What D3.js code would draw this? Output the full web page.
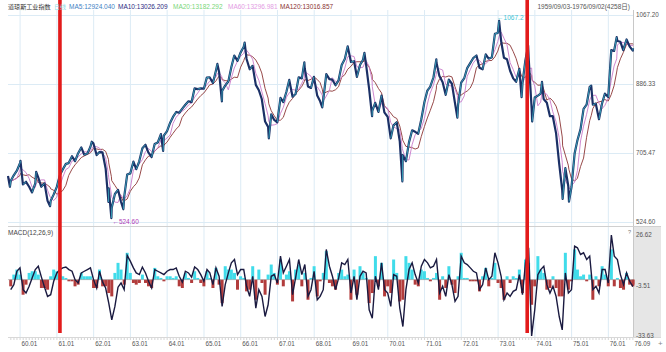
<!DOCTYPE html>
<meta charset="utf-8">
<script src="https://d3js.org/d3.v7.min.js"></script>
<style>
body { margin: 0; background: #fff; }
text { font-family: "Liberation Sans", "Noto Sans CJK SC", sans-serif; }
</style>
<body>
<script>

// ---- data (Dow Jones Industrial, 1959/09 - 1976/09) ----
var priceDates = [
 "1959-09-03","1959-09-22","1959-09-30","1959-10-30","1959-11-30","1959-12-31",
 "1960-01-05","1960-01-29","1960-02-29","1960-03-31","1960-04-29","1960-05-31","1960-06-09","1960-06-30","1960-07-29","1960-08-31","1960-09-30","1960-10-25","1960-10-31","1960-11-30","1960-12-30",
 "1961-01-31","1961-02-28","1961-03-31","1961-04-28","1961-05-31","1961-06-30","1961-07-31","1961-08-31","1961-09-29","1961-10-31","1961-11-30","1961-12-13","1961-12-29",
 "1962-01-31","1962-02-28","1962-03-30","1962-04-30","1962-05-28","1962-05-31","1962-06-26","1962-06-29","1962-07-31","1962-08-31","1962-09-28","1962-10-23","1962-10-31","1962-11-30","1962-12-31",
 "1963-01-31","1963-02-28","1963-03-29","1963-04-30","1963-05-31","1963-06-28","1963-07-31","1963-08-30","1963-09-30","1963-10-31","1963-11-22","1963-11-29","1963-12-31",
 "1964-01-31","1964-02-28","1964-03-31","1964-04-30","1964-05-29","1964-06-30","1964-07-31","1964-08-31","1964-09-30","1964-10-30","1964-11-30","1964-12-31",
 "1965-01-29","1965-02-26","1965-03-31","1965-04-30","1965-05-14","1965-05-31","1965-06-28","1965-06-30","1965-07-30","1965-08-31","1965-09-30","1965-10-29","1965-11-30","1965-12-31",
 "1966-01-31","1966-02-09","1966-02-28","1966-03-31","1966-04-29","1966-05-31","1966-06-30","1966-07-29","1966-08-31","1966-09-30","1966-10-07","1966-10-31","1966-11-30","1966-12-30",
 "1967-01-31","1967-02-28","1967-03-31","1967-04-28","1967-05-31","1967-06-30","1967-07-31","1967-08-31","1967-09-25","1967-09-29","1967-10-31","1967-11-30","1967-12-29",
 "1968-01-31","1968-02-29","1968-03-21","1968-03-29","1968-04-30","1968-05-31","1968-06-28","1968-07-31","1968-08-30","1968-09-30","1968-10-31","1968-11-29","1968-12-31",
 "1969-01-31","1969-02-28","1969-03-31","1969-04-30","1969-05-14","1969-05-30","1969-06-30","1969-07-29","1969-07-31","1969-08-29","1969-09-30","1969-10-31","1969-11-28","1969-12-31",
 "1970-01-30","1970-02-27","1970-03-31","1970-04-30","1970-05-26","1970-05-29","1970-06-30","1970-07-31","1970-08-31","1970-09-30","1970-10-30","1970-11-30","1970-12-31",
 "1971-01-29","1971-02-26","1971-03-31","1971-04-28","1971-04-30","1971-05-28","1971-06-30","1971-07-30","1971-08-31","1971-09-30","1971-10-29","1971-11-23","1971-11-30","1971-12-31",
 "1972-01-31","1972-02-29","1972-03-30","1972-04-28","1972-05-31","1972-06-30","1972-07-31","1972-08-31","1972-09-29","1972-10-31","1972-11-30","1972-12-29",
 "1973-01-11","1973-01-31","1973-02-28","1973-03-30","1973-04-30","1973-05-31","1973-06-29","1973-07-31","1973-08-22","1973-08-31","1973-09-28","1973-10-26","1973-10-31","1973-11-30","1973-12-05","1973-12-31",
 "1974-01-31","1974-02-28","1974-03-13","1974-03-29","1974-04-30","1974-05-31","1974-06-28","1974-07-31","1974-08-30","1974-09-30","1974-10-04","1974-10-31","1974-11-29","1974-12-06","1974-12-31",
 "1975-01-31","1975-02-28","1975-03-31","1975-04-30","1975-05-30","1975-06-30","1975-07-15","1975-07-31","1975-08-29","1975-09-30","1975-10-31","1975-11-28","1975-12-31",
 "1976-01-30","1976-02-27","1976-03-24","1976-03-31","1976-04-30","1976-05-28","1976-06-30","1976-07-30","1976-08-31","1976-09-02"
];
var priceClose = [
 645,617,632,647,659,679,
 685,623,630,617,602,626,656,641,617,626,580,566,580,597,616,
 648,662,677,679,697,684,705,720,701,704,722,735,731,
 700,708,707,665,577,613,535,561,598,609,579,558,590,649,652,
 683,663,683,718,727,707,695,729,733,755,711,751,763,
 785,800,813,811,821,832,841,839,875,873,875,874,
 903,904,889,922,939,918,841,868,882,893,931,961,947,969,
 984,995,952,925,934,884,870,847,788,774,744,807,792,786,
 850,839,866,897,853,860,904,901,943,927,880,876,905,
 856,841,825,841,912,899,898,883,896,936,952,985,944,
 946,905,936,950,968,938,873,802,816,837,813,856,812,800,
 744,778,786,736,631,700,684,734,765,761,756,794,839,
 869,879,904,951,942,908,891,858,898,887,839,798,831,890,
 902,928,941,954,961,929,925,964,953,956,1018,1020,
 1052,999,955,951,921,901,892,926,852,888,947,987,957,822,788,851,
 856,861,892,847,837,802,802,757,679,608,585,666,619,578,616,
 704,739,768,821,832,879,882,832,835,794,836,861,852,
 975,973,1009,999,997,975,1003,985,974,980
];

// MACD(12,26,9): one value per month from 1959/09 to 1976/09
var macdStart = "1959-09-01";
var difValues = [
 -6,-3,5,7,
 -6,-8,-4,1,6,8,1.5,-4.5,-10,-9,-1,4,
 6,7,7.5,6,5,0,-2,4,5,6,7,0,
 -5,5,-1.5,-5,-14,-24,-16,-4.5,-2,-6,14.5,11,
 7,4,3,7.5,4,-1,-5,6,5,4,3,5,
 6,6,7,2,-1.5,5,4,1.5,7.5,6,3,-1,
 6,4,-3,7,2,-16,-3,4,10,12,3,6,
 6,-4,-10,2,-17,-6,-10,-22,-15,2,3,-2,
 14,4,8,12,-9,1,12,3,9,-10,-6,5,
 -12,-10,-6,18,8,2,-6,1,10,9,12,-8,
 2,-12,2,5,4,-18,-23,2,-6,10,-6,-8,
 -16,3,2,-17,-28,-6,6,10,3,-2,8,12,
 10,7,8,12,-8,-4,-10,3,-3,-13,-10,14,
 10,9,7,5,4,-6,-3,7,0,2,16,10,
 2,-12,-8,-10,-7,-6,3,-9,10,19,-33.6,-18,
 3,6,8,-3,-8,-4,-10,-22,-30,4,-8,-6,
 20,19,15,16,12,14,-6,-4,-8,6,6,-2,
 26.6,14,12,3,-3,4,-1,-4,-4
];
var histValues = [
 -4,3,6,3,
 -9,-3,4,5,5,3,-5,-5,-6,2,6,5,
 3,2,1,-1,-1,-4,-3,4,2,2,2,-5,
 -5,6,-4,-4,-8,-10,4,10,6,-3,16,4,
 -2,-3,-2,3,-2,-4,-5,7,2,1,-1,2,
 2,1,2,-4,-5,4,1,-2,5,1,-2,-4,
 5,1,-5,7,-3,-14,8,6,6,4,-6,2,
 1,-7,-6,8,-12,6,-2,-9,3,9,4,-3,
 12,-4,3,5,-13,6,9,-4,4,-12,1,8,
 -10,-1,4,17,-2,-4,-6,4,6,2,3,-12,
 6,-9,8,4,1,-14,-8,14,-4,10,-10,-4,
 -8,12,4,-13,-12,14,10,6,-3,-4,6,5,
 1,-1,1,4,-12,2,-5,8,-3,-8,2,16,
 1,1,-1,-1,-1,-7,2,7,-4,1,10,-2,
 -5,-12,2,-2,2,1,6,-8,12,10,-15,-4,
 14,6,4,-6,-5,2,-5,-10,-10,16,-6,-1,
 18,6,2,3,-1,3,-12,2,-4,8,3,-4,
 18,-4,1,-5,-6,4,-3,-4,-3
];

var priceTicks = [524.60, 705.47, 886.33, 1067.20];
var macdTicks = [26.62, -3.51, -33.63];
var yearLabels = ["60.01","61.01","62.01","63.01","64.01","65.01","66.01","67.01","68.01","69.01","70.01","71.01","72.01","73.01","74.01","75.01","76.01"];
var lastLabel = "76.09";
var markerDates = ["1961-01-31", "1973-10-17"];
var legendLabels = ["道琼斯工业指数", "日线", "MA5:12924.040", "MA10:13026.209", "MA20:13182.292", "MA60:13296.981", "MA120:13016.857"];
var legendColors = ["#333333", "#8fdbe6", "#3f7fc4", "#2c2c82", "#7ad67a", "#e39be3", "#8b3434"];
var legendX = [8, 54, 69, 118, 173, 228, 280];

// ---- layout ----
var width = 666, height = 352;
var left = 8, right = 633;
var parse = d3.timeParse("%Y-%m-%d");

var svg = d3.select("body").append("svg")
    .attr("width", width)
    .attr("height", height);

var x = d3.scaleTime()
    .domain([parse("1959-09-03"), parse("1976-09-02")])
    .range([left, right]);
var y = d3.scaleLinear().domain([524.6, 1067.2]).range([222, 15]);
var ym = d3.scaleLinear().domain([-33.63, 26.62]).range([336, 235]);

var prices = priceDates.map(function(d, i) { return {date: parse(d), value: priceClose[i]}; });

var endDate = parse("1976-09-02");
var macd = difValues.map(function(v, i) {
  var d = d3.timeDay.offset(d3.timeMonth.offset(parse(macdStart), i + 1), -1);
  if (d > endDate) d = endDate;
  return {date: d, dif: v, hist: histValues[i]};
});

// moving average over a calendar window (approximate trading-day MA)
function movingAvg(days) {
  return prices.map(function(p, i) {
    var from = +p.date - days * 864e5, sum = 0, n = 0;
    for (var j = i; j >= 0 && +prices[j].date >= from; j--) { sum += prices[j].value; n++; }
    return {date: p.date, value: sum / n};
  });
}

// right axis background for macd panel
svg.append("rect").attr("x", right).attr("y", 226).attr("width", 28).attr("height", 111)
    .attr("fill", "#e6e6e6");

// grid
var years = d3.timeYear.range(parse("1960-01-01"), parse("1976-01-02"));
svg.append("g").selectAll("line").data(years).enter().append("line")
    .attr("x1", d => x(d)).attr("x2", d => x(d))
    .attr("y1", 10).attr("y2", 337)
    .attr("stroke", "#dcebf5").attr("stroke-width", 1);

svg.append("g").selectAll("line").data(priceTicks).enter().append("line")
    .attr("x1", left).attr("x2", right)
    .attr("y1", d => Math.round(y(d)) + 0.5).attr("y2", d => Math.round(y(d)) + 0.5)
    .attr("stroke", "#dcebf5");

// borders
svg.append("line").attr("x1", right + 0.5).attr("x2", right + 0.5).attr("y1", 10).attr("y2", 337)
    .attr("stroke", "#c8c8c8");
svg.append("line").attr("x1", left).attr("x2", 661).attr("y1", 226.5).attr("y2", 226.5)
    .attr("stroke", "#d0d0d0");
svg.append("line").attr("x1", left).attr("x2", 661).attr("y1", 337.5).attr("y2", 337.5)
    .attr("stroke", "#d8d8d8");

// moving averages
var line = d3.line().x(d => x(d.date)).y(d => y(d.value));
svg.append("path").datum(movingAvg(174)).attr("d", line)
    .attr("fill", "none").attr("stroke", "#8b3434").attr("stroke-width", 0.9);
svg.append("path").datum(movingAvg(87)).attr("d", line)
    .attr("fill", "none").attr("stroke", "#c97ac9").attr("stroke-width", 0.9);

// price
svg.append("path").datum(prices).attr("d", line)
    .attr("fill", "none").attr("stroke", "#1b3066").attr("stroke-width", 2.2)
    .attr("stroke-linejoin", "round");
var ups = prices.slice(1).map((p, i) => [prices[i], p]).filter(s => s[1].value > s[0].value);
svg.append("g").selectAll("path").data(ups).enter().append("path")
    .attr("d", line)
    .attr("fill", "none").attr("stroke", "#3cb6c6").attr("stroke-width", 0.8);

// high / low annotations
var lowPt = prices[d3.minIndex(prices, d => d.value)];
var highPt = prices[d3.maxIndex(prices, d => d.value)];
svg.append("text").attr("x", x(lowPt.date) + 1).attr("y", y(524.6) + 2)
    .attr("font-size", "6.5px").attr("fill", "#b040b8").text("←524.60");
svg.append("text").attr("x", x(highPt.date) - 2).attr("y", y(1067.2) + 5)
    .attr("font-size", "6.5px").attr("fill", "#3cc4d4").text("←1067.2");

// macd histogram
var barW = 3;
svg.append("g").selectAll("rect").data(macd).enter().append("rect")
    .attr("x", d => x(d.date) - barW / 2)
    .attr("width", barW)
    .attr("y", d => d.hist > 0 ? ym(d.hist) : ym(0))
    .attr("height", d => Math.abs(ym(d.hist) - ym(0)))
    .attr("fill", d => d.hist > 0 ? "#40dcea" : "#b23c3c");

svg.append("line").attr("x1", left).attr("x2", right).attr("y1", ym(0)).attr("y2", ym(0))
    .attr("stroke", "#9a9a9a").attr("stroke-width", 0.6);

var mline = d3.line().x(d => x(d.date)).y(d => ym(d.dif));
svg.append("path").datum(macd).attr("d", mline)
    .attr("fill", "none").attr("stroke", "#1a1a40").attr("stroke-width", 1.4);

// red marker lines
svg.append("g").selectAll("rect").data(markerDates).enter().append("rect")
    .attr("x", d => x(parse(d)) - 1.8).attr("width", 3.6)
    .attr("y", 0).attr("height", 333)
    .attr("fill", "#e21b1b");

// right axis labels
svg.append("g").selectAll("text").data(priceTicks).enter().append("text")
    .attr("x", 636).attr("y", d => y(d)).attr("dy", "0.35em")
    .attr("font-size", "6.3px").attr("fill", "#555")
    .text(d => d.toFixed(2));
svg.append("g").selectAll("text").data(macdTicks).enter().append("text")
    .attr("x", 636).attr("y", d => ym(d)).attr("dy", "0.35em")
    .attr("font-size", "6.3px").attr("fill", "#555")
    .text(d => d.toFixed(2));

// time axis
var months = d3.timeMonth.range(parse("1959-10-01"), endDate);
svg.append("g").selectAll("line").data(months).enter().append("line")
    .attr("x1", d => x(d)).attr("x2", d => x(d))
    .attr("y1", 338).attr("y2", 340)
    .attr("stroke", "#b8b8b8").attr("stroke-width", 0.6);
svg.append("g").selectAll("text").data(years).enter().append("text")
    .attr("x", d => x(d) + 1.5).attr("y", 345.5)
    .attr("font-size", "6.3px").attr("fill", "#555")
    .text((d, i) => yearLabels[i]);
svg.append("text").attr("x", right + 1.5).attr("y", 345.5)
    .attr("font-size", "6.3px").attr("fill", "#555").text(lastLabel);
svg.append("text").attr("x", 658).attr("y", 346)
    .attr("font-size", "8px").attr("fill", "#888").text("+");

// legend
svg.append("g").selectAll("text").data(legendLabels).enter().append("text")
    .attr("x", (d, i) => legendX[i]).attr("y", 8.5)
    .attr("font-size", (d, i) => i < 2 ? "6.1px" : "6.5px")
    .attr("fill", (d, i) => legendColors[i])
    .text(d => d);
svg.append("text").attr("x", 630).attr("y", 8.5).attr("text-anchor", "end")
    .attr("font-size", "6.5px").attr("fill", "#555")
    .text("1959/09/03-1976/09/02(4258日)");

// macd title
svg.append("text").attr("x", 8).attr("y", 234.5)
    .attr("font-size", "6.5px").attr("fill", "#444").text("MACD(12,26,9)");
svg.append("text").attr("x", 628).attr("y", 234)
    .attr("font-size", "5.5px").attr("fill", "#777").text("?");

</script>
</body>
